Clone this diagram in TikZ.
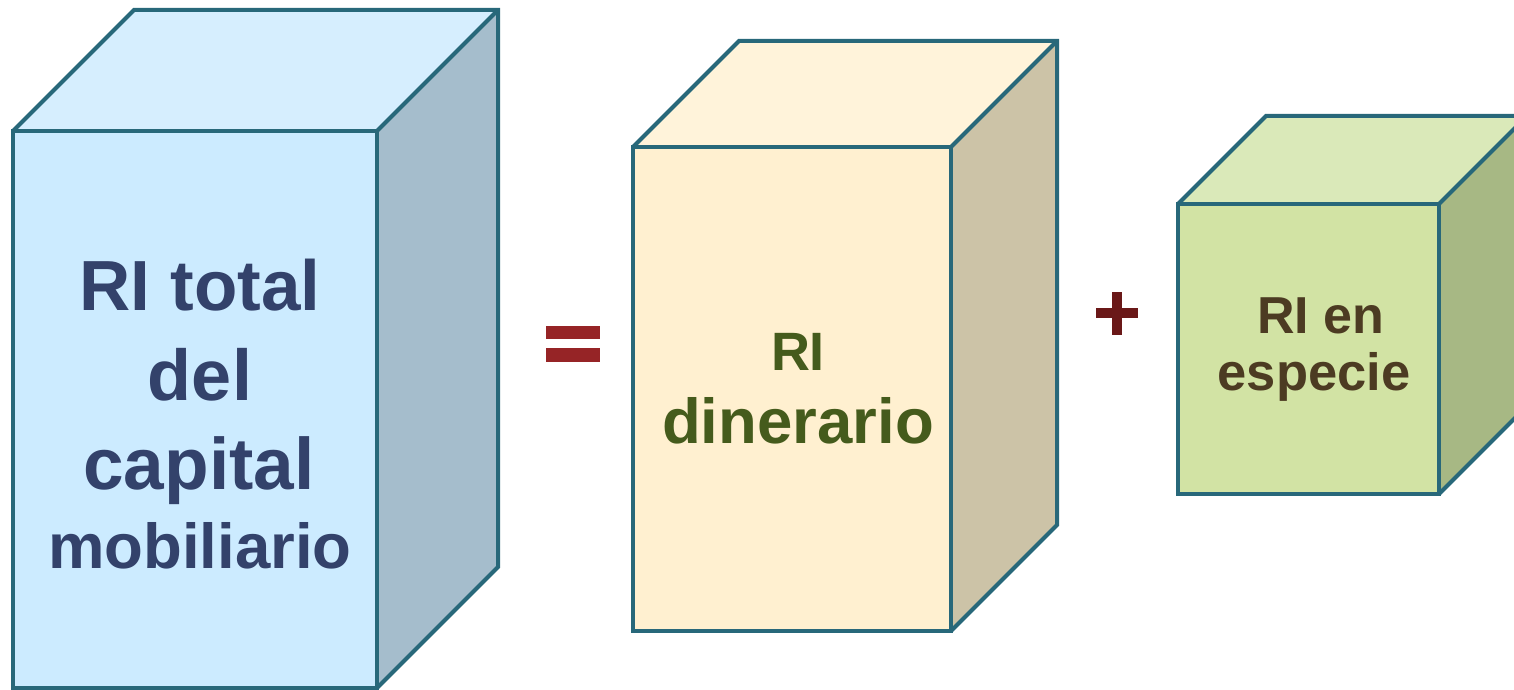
\documentclass[tikz,border=0pt]{standalone}
\usepackage{fontspec}
\setmainfont{Liberation Sans}
\definecolor{edge}{HTML}{28687A}
\definecolor{aFront}{HTML}{CCEBFF}
\definecolor{aTop}{HTML}{D6EEFE}
\definecolor{aSide}{HTML}{A5BDCC}
\definecolor{aText}{HTML}{33426B}
\definecolor{bFront}{HTML}{FFF0D0}
\definecolor{bTop}{HTML}{FFF3DA}
\definecolor{bSide}{HTML}{CCC3A7}
\definecolor{bText}{HTML}{455B1C}
\definecolor{cFront}{HTML}{D2E3A4}
\definecolor{cTop}{HTML}{DAE9B9}
\definecolor{cSide}{HTML}{A7B884}
\definecolor{cText}{HTML}{4C3B22}
\definecolor{eqRed}{HTML}{962426}
\definecolor{plusRed}{HTML}{6A1818}
\newcommand{\mycube}[8]{% x1 y1 x2 y2 d front top side
  \fill[#6] (#1,#2) rectangle (#3,#4);
  \fill[#7] (#1,#2) -- ({#1+#5},{#2-#5}) -- ({#3+#5},{#2-#5}) -- (#3,#2) -- cycle;
  \fill[#8] (#3,#2) -- ({#3+#5},{#2-#5}) -- ({#3+#5},{#4-#5}) -- (#3,#4) -- cycle;
  \draw[cubeedge] (#1,#2) rectangle (#3,#4);
  \draw[cubeedge] (#1,#2) -- ({#1+#5},{#2-#5}) -- ({#3+#5},{#2-#5}) -- ({#3+#5},{#4-#5}) -- (#3,#4);
  \draw[cubeedge] (#3,#2) -- ({#3+#5},{#2-#5});
}
\begin{document}
\begin{tikzpicture}[x=1pt,y=-1pt,
  cubeedge/.style={draw=edge,line width=4pt},
  txt/.style={anchor=base,inner sep=0pt,font=\bfseries}]
\useasboundingbox (0,0) rectangle (1514,690);
\clip (0,0) rectangle (1514,690);
% cube 1
\mycube{13}{131}{377}{688}{121}{aFront}{aTop}{aSide}
\node[txt,text=aText,font=\bfseries\fontsize{71}{71}\selectfont] (t1) at (200,310) {RI total};
\node[txt,text=aText,font=\bfseries\fontsize{72}{72}\selectfont] (t2) at (200,400) {del};
\node[txt,text=aText,font=\bfseries\fontsize{73}{73}\selectfont] (t3) at (199,489) {capital};
\node[txt,text=aText,font=\bfseries\fontsize{63.5}{63.5}\selectfont] (t4) at (200,568) {mobiliario};
% equals
\fill[eqRed] (546,326) rectangle (600,339);
\fill[eqRed] (546,348) rectangle (600,362);
% cube 2
\mycube{633}{147}{951}{631}{106}{bFront}{bTop}{bSide}
\node[txt,text=bText,font=\bfseries\fontsize{54}{54}\selectfont] (u1) at (798,370) {RI};
\node[txt,text=bText,font=\bfseries\fontsize{63.5}{63.5}\selectfont] (u2) at (798,443) {dinerario};
% plus
\fill[plusRed] (1096,308) rectangle (1138,318);
\fill[plusRed] (1112,292) rectangle (1122,335);
% cube 3
\mycube{1178}{204}{1439}{494}{88}{cFront}{cTop}{cSide}
\node[txt,text=cText,font=\bfseries\fontsize{52}{52}\selectfont] (v1) at (1321,333) {RI en};
\node[txt,text=cText,font=\bfseries\fontsize{52.5}{52.5}\selectfont] (v2) at (1314,390) {especie};
\end{tikzpicture}
\end{document}
